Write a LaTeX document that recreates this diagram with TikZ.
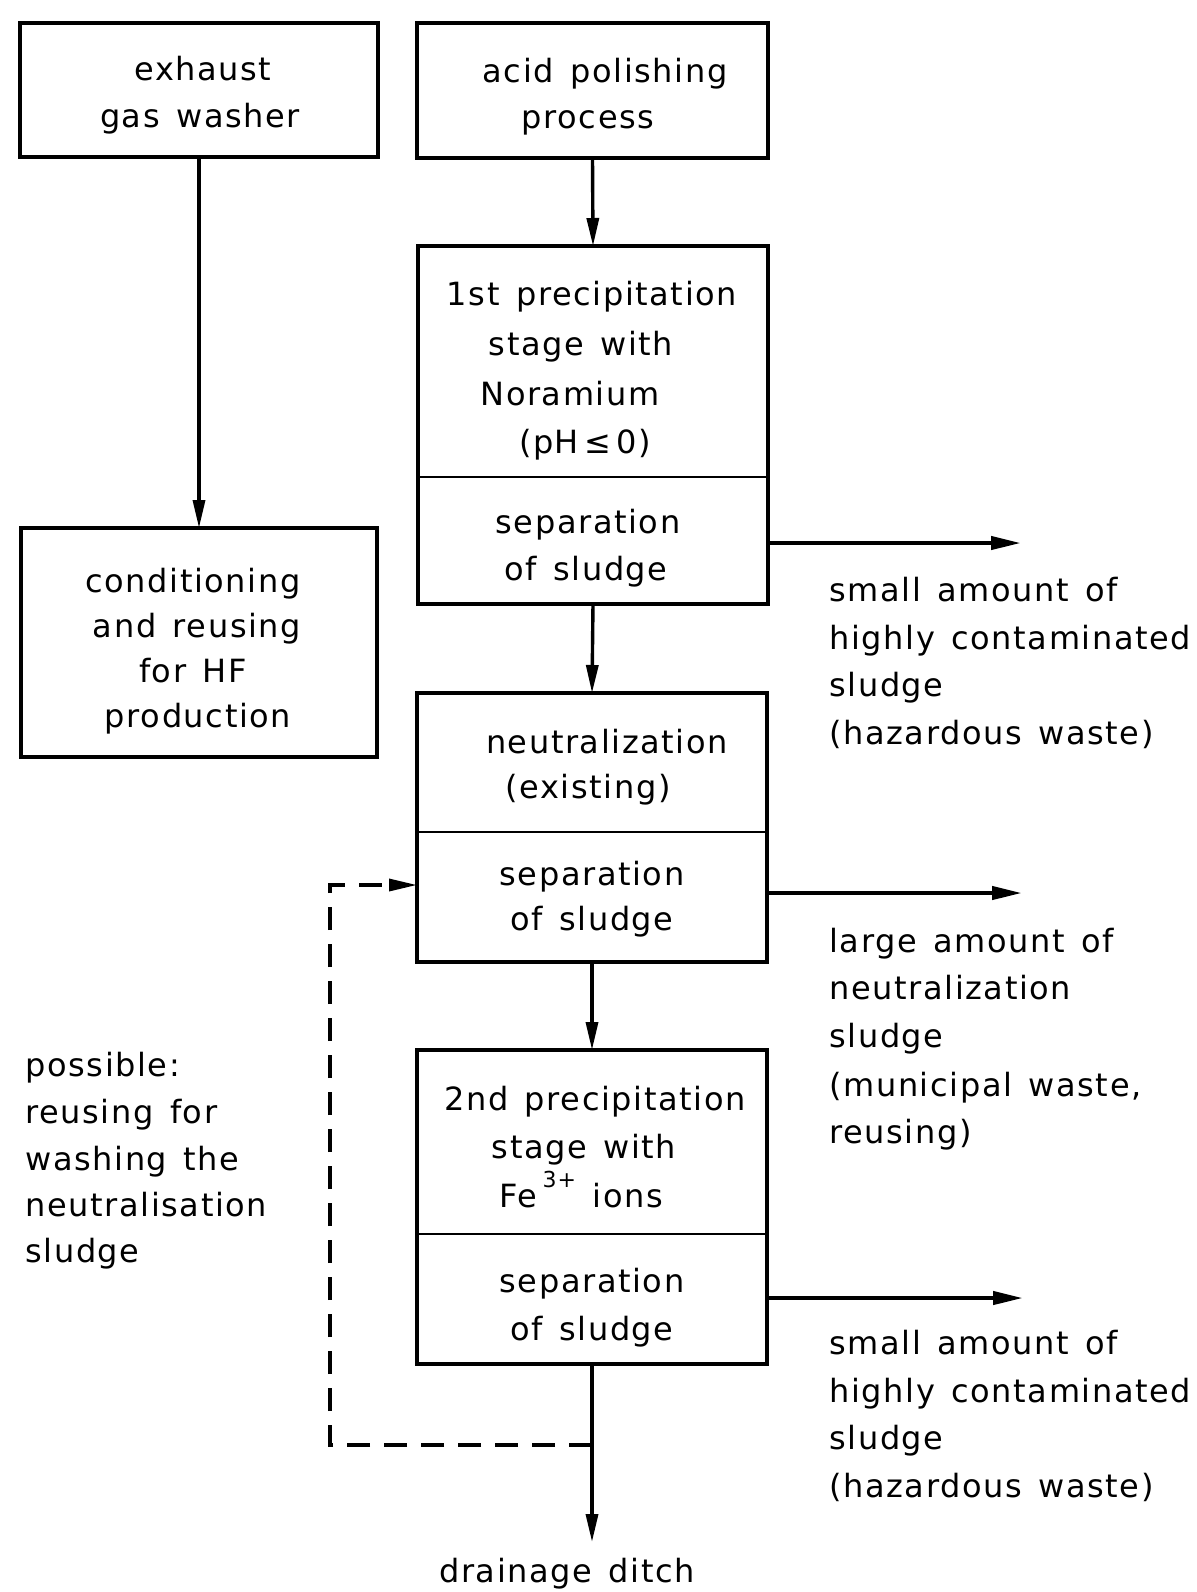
\documentclass[tikz,border=0pt]{standalone}
\usepackage{fontspec}
\setmainfont{DejaVu Sans}[LetterSpace=5,WordSpace=1.4]
\usetikzlibrary{arrows.meta}
\begin{document}
\begin{tikzpicture}[x=0.5pt,y=-0.5pt,
  box/.style={draw, line width=1.8pt, inner sep=0pt, outer sep=0pt},
  lbl/.style={font=\fontsize{16}{24}\selectfont, inner sep=0pt, anchor=base},
  lbll/.style={lbl, anchor=base west},
  divline/.style={line width=0.9pt},
  arr/.style={line width=1.7pt, -{Triangle[length=14pt,width=6pt]}},
  sidearr/.style={line width=2.1pt, -{Triangle[length=15pt,width=6.5pt]}},
  dasharr/.style={line width=1.7pt, dash pattern=on 11.5pt off 7pt, -{Triangle[length=14pt,width=6pt]}}
]
\fill[white] (0,0) rectangle (1197,1592);
\useasboundingbox (0,0) rectangle (1197,1592);

% boxes
\node[box, minimum width=179pt, minimum height=67pt] (exh) at (199,90) {};
\node[box, minimum width=175.5pt, minimum height=67.5pt] (acid) at (592.5,90.5) {};
\node[box, minimum width=175pt, minimum height=179pt] (p1) at (593,425) {};
\node[box, minimum width=178pt, minimum height=114.5pt] (cond) at (199,642.5) {};
\node[box, minimum width=175pt, minimum height=134.5pt] (neut) at (592,827.5) {};
\node[box, minimum width=175pt, minimum height=157pt] (p2) at (592,1207) {};

% dividers
\coordinate (d1) at (0,477);
\coordinate (d2) at (0,832);
\coordinate (d3) at (0,1234);
\draw[divline] (p1.west |- d1) -- (p1.east |- d1);
\draw[divline] (neut.west |- d2) -- (neut.east |- d2);
\draw[divline] (p2.west |- d3) -- (p2.east |- d3);

% box texts
\node[lbl] (exh1) at (203,80) {exhaust};
\node[lbl] (exh2) at (200,127) {gas washer};
\node[lbl] (acid1) at (605,82) {acid polishing};
\node[lbl] (acid2) at (588,128) {process};
\node[lbl] (p1a) at (592,305) {1st precipitation};
\node[lbl] (p1b) at (581,355) {stage with};
\node[lbl] (p1c) at (570,405) {Noramium};
\node[lbl] (p1d) at (585,453) {(pH\,≤\,0)};
\node[lbl] (p1e) at (588,533) {separation};
\node[lbl] (p1f) at (586,580) {of sludge};
\node[lbl] (cond1) at (193,592) {conditioning};
\node[lbl] (cond2) at (197,637) {and reusing};
\node[lbl] (cond3) at (193,682) {for HF};
\node[lbl] (cond4) at (198,727) {production};
\node[lbl] (neut1) at (607,753) {neutralization};
\node[lbl] (neut2) at (588,798) {(existing)};
\node[lbl] (neut3) at (592,885) {separation};
\node[lbl] (neut4) at (592,930) {of sludge};
\node[lbl] (p2a) at (595,1110) {2nd precipitation};
\node[lbl] (p2b) at (584,1158) {stage with};
\node[lbl] (p2c) at (581,1207) {Fe\,\raisebox{0.6em}{\fontsize{11}{11}\selectfont 3+}\ ions};
\node[lbl] (p2d) at (592,1292) {separation};
\node[lbl] (p2e) at (592,1340) {of sludge};

% side texts
\node[lbll] (s1a) at (829,601) {small amount of};
\node[lbll] (s1b) at (829,649) {highly contaminated};
\node[lbll] (s1c) at (829,696) {sludge};
\node[lbll] (s1d) at (829,744) {(hazardous waste)};
\node[lbll] (s2a) at (829,952) {large amount of};
\node[lbll] (s2b) at (829,999) {neutralization};
\node[lbll] (s2c) at (829,1047) {sludge};
\node[lbll] (s2d) at (829,1096) {(municipal waste,};
\node[lbll] (s2e) at (829,1143) {reusing)};
\node[lbll] (s3a) at (829,1354) {small amount of};
\node[lbll] (s3b) at (829,1402) {highly contaminated};
\node[lbll] (s3c) at (829,1449) {sludge};
\node[lbll] (s3d) at (829,1497) {(hazardous waste)};
\node[lbll] (q1) at (25,1076) {possible:};
\node[lbll] (q2) at (25,1123) {reusing for};
\node[lbll] (q3) at (25,1170) {washing the};
\node[lbll] (q4) at (25,1216) {neutralisation};
\node[lbll] (q5) at (25,1262) {sludge};
\node[lbl] (drain) at (567,1582) {drainage ditch};

% connectors
\draw[arr] (exh.south) -- (cond.north);
\draw[arr] (acid.south) -- (p1.north);
\draw[arr] (p1.south) -- (neut.north);
\draw[arr] (neut.south) -- (p2.north);
\coordinate (dtip) at (592,1542);
\draw[arr] (p2.south) -- (dtip);

\coordinate (r1) at (1021,543);
\coordinate (r2) at (1022,893);
\coordinate (r3) at (1023,1298);
\draw[sidearr] (p1.east |- r1) -- (r1);
\draw[sidearr] (neut.east |- r2) -- (r2);
\draw[sidearr] (p2.east |- r3) -- (r3);

\coordinate (dj) at (592,1445);
\coordinate (dc1) at (330,1445);
\coordinate (dc2) at (330,885);
\draw[dasharr] (dj) -- (dc1) -- (dc2) -- (neut.west |- dc2);
\end{tikzpicture}
\end{document}
